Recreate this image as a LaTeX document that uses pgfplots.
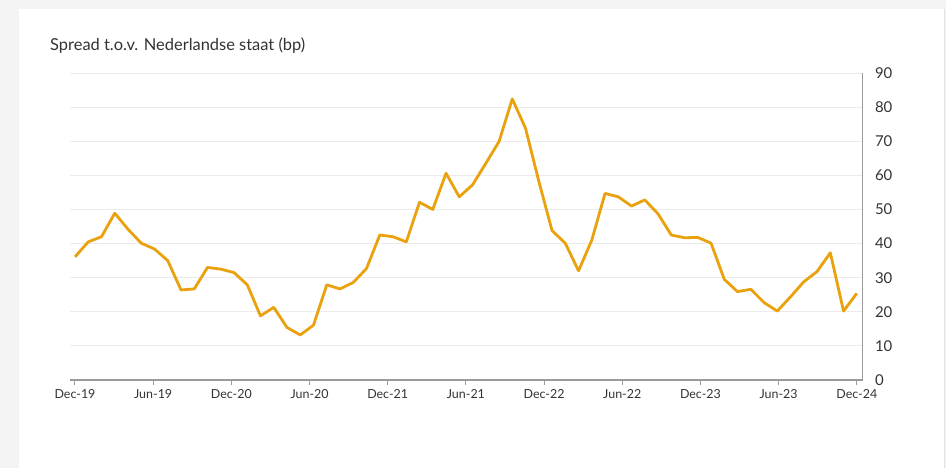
\documentclass[border=0pt]{standalone}
\usepackage{pgfplots}
\pgfplotsset{compat=1.18}
\usepackage{fontspec}
\setmainfont{Lato}
\definecolor{lineor}{HTML}{E9A20E}
\definecolor{bgc}{HTML}{F4F4F4}
\definecolor{cardb}{HTML}{E2E2E2}
\definecolor{txt}{HTML}{333333}
\definecolor{axc}{HTML}{9A9A9A}
\definecolor{gridc}{HTML}{EBEBEB}
\begin{document}
\begin{tikzpicture}
\fill[bgc] (0,0) rectangle (946bp,468bp);
\fill[white] (19bp,0) rectangle (944bp,459bp);
\draw[cardb, line width=1bp] (944bp,0) -- (944bp,459bp);
\node[anchor=west, font=\fontsize{16.5}{18}\selectfont, text=txt, inner sep=0] at (50bp,422bp) {Spread t.o.v. Nederlandse staat (bp)};
\begin{axis}[
  at={(70bp,88bp)}, anchor=south west,
  scale only axis, width=792.5bp, height=307bp,
  xmin=-0.377, xmax=59.43, ymin=0, ymax=90,
  axis x line*=bottom, axis y line*=right,
  axis line style={draw=axc, line width=1.3bp, -},
  xtick={0,5.9,11.8,17.7,23.6,29.5,35.4,41.3,47.2,53.1,59},
  xticklabels={Dec-19,Jun-19,Dec-20,Jun-20,Dec-21,Jun-21,Dec-22,Jun-22,Dec-23,Jun-23,Dec-24},
  ytick={0,10,...,90},
  tick align=outside,
  major tick length=5bp,
  xtick style={draw=axc, line width=1bp},
  ytick style={draw=none},
  ymajorgrids,
  major grid style={draw=gridc, line width=0.9bp},
  xticklabel style={font=\fontsize{12.5}{14}\selectfont, text=txt, yshift=-1bp},
  yticklabel style={font=\fontsize{15}{17}\selectfont, text=txt, anchor=west, xshift=4bp},
  /pgf/number format/assume math mode=true,
  clip=false,
]
\addplot[lineor, line width=2.8bp, line join=round] coordinates {
(0,36.1) (1,40.5) (2,42.0) (3,48.9) (4,44.2) (5,40.1) (6,38.4) (7,35.0) (8,26.4) (9,26.7)
(10,33.0) (11,32.5) (12,31.5) (13,27.9) (14,18.8) (15,21.3) (16,15.4) (17,13.2) (18,16.1) (19,27.9)
(20,26.7) (21,28.6) (22,32.7) (23,42.5) (24,42.0) (25,40.5) (26,52.1) (27,50.0) (28,60.6) (29,53.7)
(30,57.2) (31,63.5) (32,69.9) (33,82.4) (34,73.8) (35,58.3) (36,43.8) (37,40.1) (38,32.0) (39,41.0)
(40,54.7) (41,53.7) (42,51.0) (43,52.8) (44,48.7) (45,42.5) (46,41.7) (47,41.8) (48,40.1) (49,29.5)
(50,25.9) (51,26.6) (52,22.7) (53,20.2) (54,24.4) (55,28.8) (56,31.8) (57,37.3) (58,20.2) (59,25.4)
};
\end{axis}
\end{tikzpicture}
\end{document}
